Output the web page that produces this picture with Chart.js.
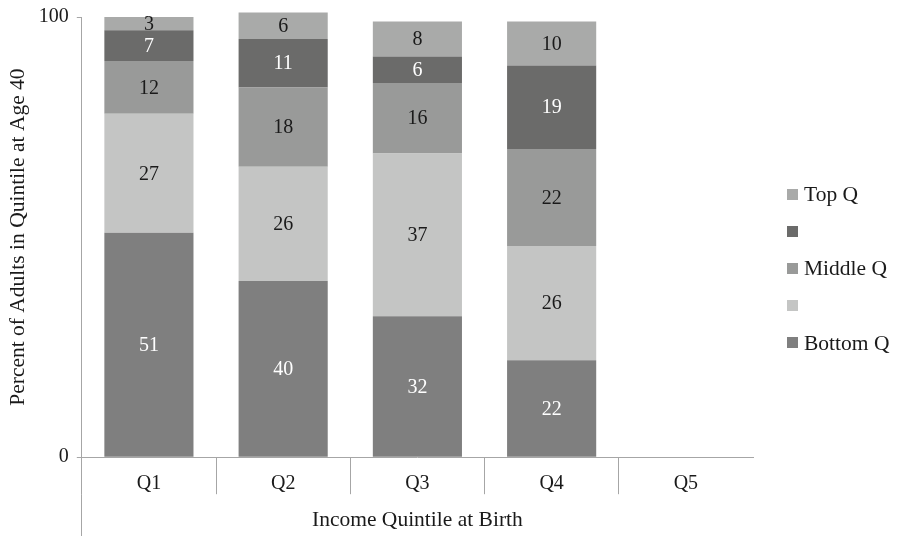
<!DOCTYPE html>
<html>
<head>
<meta charset="utf-8">
<script src="https://cdn.jsdelivr.net/npm/chart.js@4.4.0/dist/chart.umd.min.js"></script>
<style>
  html, body { margin: 0; padding: 0; background: #ffffff; }
  #wrap { width: 897px; height: 536px; position: relative; }
</style>
</head>
<body>
<div id="wrap"><canvas id="chart"></canvas></div>
<script>
// Income quintile at birth (categories) and share of adults in each quintile at age 40
const categories = ['Q1', 'Q2', 'Q3', 'Q4', 'Q5'];
const bottomQ = [51, 40, 32, 22, null];
const secondQ = [27, 26, 37, 26, null];
const middleQ = [12, 18, 16, 22, null];
const fourthQ = [7, 11, 6, 19, null];
const topQ    = [3, 6, 8, 10, null];
const seriesNames = ['Bottom Q', '', 'Middle Q', '', 'Top Q'];
const yTickValues = [0, 100];

const FONT = 'Liberation Serif, Times New Roman, serif';
const AXIS_GRAY = '#a6a6a6';
const TEXT = '#1a1a1a';

const seriesStyle = [
  { data: bottomQ, fill: '#7f7f7f', label: '#ffffff' },
  { data: secondQ, fill: '#c4c5c4', label: TEXT },
  { data: middleQ, fill: '#999a99', label: TEXT },
  { data: fourthQ, fill: '#6b6b6a', label: '#ffffff' },
  { data: topQ,    fill: '#a9aaa9', label: TEXT }
];

const datasets = seriesStyle.map((s, i) => ({
  label: seriesNames[i],
  data: s.data,
  backgroundColor: s.fill,
  borderWidth: 0,
  categoryPercentage: 1.0,
  barPercentage: 0.664,
  clip: false,
  valueColor: s.label
}));

// Writes each segment's value in the middle of its block
const segmentValues = {
  id: 'segmentValues',
  afterDatasetsDraw(chart) {
    const ctx = chart.ctx;
    ctx.save();
    ctx.font = '20px ' + FONT;
    ctx.textAlign = 'center';
    ctx.textBaseline = 'middle';
    chart.data.datasets.forEach((ds, di) => {
      const meta = chart.getDatasetMeta(di);
      meta.data.forEach((bar, i) => {
        const v = ds.data[i];
        if (v === null || v === undefined) return;
        ctx.fillStyle = ds.valueColor;
        ctx.fillText(String(v), bar.x, (bar.y + bar.base) / 2 + 1);
      });
    });
    ctx.restore();
  }
};

// Continues the left axis line down past the category labels
const axisExtension = {
  id: 'axisExtension',
  afterDraw(chart) {
    const { ctx, chartArea } = chart;
    const x = Math.round(chartArea.left - 0.5) + 0.5;
    ctx.save();
    ctx.strokeStyle = AXIS_GRAY;
    ctx.lineWidth = 1;
    ctx.beginPath();
    ctx.moveTo(x, chartArea.bottom + 37);
    ctx.lineTo(x, chart.height);
    ctx.stroke();
    ctx.restore();
  }
};

// Series key on the right, topmost series first
const sideLegend = {
  id: 'sideLegend',
  afterDraw(chart) {
    const { ctx, chartArea } = chart;
    const sets = chart.data.datasets.slice().reverse();
    const step = 37.2;
    const boxSize = 11;
    const boxX = chartArea.right + 34;
    const firstY = 268.5 - step * (sets.length - 1) / 2;
    ctx.save();
    ctx.font = '21.5px ' + FONT;
    ctx.textAlign = 'left';
    ctx.textBaseline = 'middle';
    sets.forEach((ds, k) => {
      const cy = firstY + k * step;
      ctx.fillStyle = ds.backgroundColor;
      ctx.fillRect(boxX, Math.round(cy - boxSize / 2), boxSize, boxSize);
      if (ds.label) {
        ctx.fillStyle = TEXT;
        ctx.fillText(ds.label, boxX + boxSize + 6, cy + 1);
      }
    });
    ctx.restore();
  }
};

new Chart(document.getElementById('chart'), {
  type: 'bar',
  data: { labels: categories, datasets: datasets },
  options: {
    responsive: true,
    maintainAspectRatio: false,
    animation: false,
    layout: { padding: { top: 12, right: 144, bottom: 0, left: 3 } },
    plugins: {
      legend: { display: false },
      tooltip: { enabled: false }
    },
    scales: {
      x: {
        stacked: true,
        border: { color: AXIS_GRAY, width: 1 },
        grid: {
          offset: true,
          drawOnChartArea: false,
          tickLength: 37,
          lineWidth: 1,
          color: (c) => (c.type === 'tick' ? AXIS_GRAY : 'rgba(0,0,0,0)')
        },
        ticks: { padding: -22, color: TEXT, font: { family: FONT, size: 20 } },
        title: {
          display: true,
          text: 'Income Quintile at Birth',
          color: TEXT,
          font: { family: FONT, size: 21.5 },
          padding: { top: 33, bottom: 3 }
        }
      },
      y: {
        stacked: true,
        min: 0,
        max: 100,
        afterBuildTicks: (scale) => { scale.ticks = yTickValues.map(v => ({ value: v })); },
        border: { color: AXIS_GRAY, width: 1 },
        grid: { drawOnChartArea: false, tickLength: 5, color: AXIS_GRAY },
        ticks: { padding: 8, color: TEXT, font: { family: FONT, size: 20, lineHeight: 0.9 } },
        title: {
          display: true,
          text: 'Percent of Adults in Quintile at Age 40',
          color: TEXT,
          font: { family: FONT, size: 21.5 },
          padding: { top: 2, bottom: 0 }
        }
      }
    }
  },
  plugins: [segmentValues, axisExtension, sideLegend]
});
</script>
</body>
</html>
